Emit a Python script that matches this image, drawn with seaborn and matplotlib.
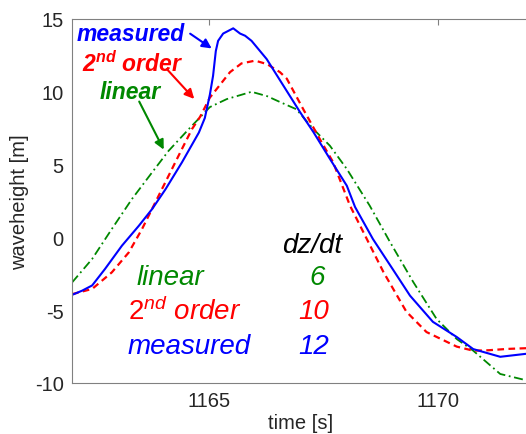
import matplotlib
matplotlib.use('Agg')
import matplotlib.pyplot as plt
import seaborn as sns

# time [s] and waveheight [m]
t_measured = [1162.0, 1162.22, 1162.44, 1162.72, 1163.09, 1163.46, 1163.75, 1164.04, 1164.4,
              1164.77, 1164.90, 1165.01, 1165.08, 1165.14, 1165.19, 1165.30, 1165.52, 1165.67,
              1165.78, 1165.92, 1166.25, 1166.54, 1166.98, 1167.27, 1167.63, 1168.0, 1168.18,
              1168.57, 1169.0, 1169.38, 1169.88, 1170.4, 1170.76, 1171.35, 1171.9, 1172.0]
h_measured = [-3.95, -3.66, -3.3, -2.17, -0.57, 0.8, 1.95, 3.3, 5.15,
              7.2, 8.2, 9.8, 11.1, 12.8, 13.5, 14.0, 14.36, 14.0,
              13.85, 13.5, 12.25, 10.8, 8.6, 7.24, 5.4, 3.55, 2.09,
              -0.11, -2.17, -4.0, -5.8, -6.84, -7.67, -8.2, -8.0, -7.98]

t_second = [1162.0, 1162.44, 1162.87, 1163.24, 1163.53, 1163.82, 1164.11, 1164.4, 1164.62,
            1164.8, 1165.01, 1165.45, 1165.7, 1166.0, 1166.26, 1166.54, 1166.69, 1167.05,
            1167.41, 1167.7, 1168.07, 1168.36, 1168.8, 1169.3, 1169.74, 1170.4, 1170.76,
            1171.1, 1171.5, 1172.0]
h_second = [-3.9, -3.54, -2.4, -1.03, 0.58, 2.41, 4.24, 6.07, 7.44,
            8.3, 9.6, 11.35, 11.95, 12.14, 11.9, 11.35, 10.9, 8.8,
            6.76, 5.17, 2.18, 0.37, -2.38, -5.1, -6.5, -7.5, -7.78,
            -7.75, -7.66, -7.6]

t_linear = [1162.0, 1162.44, 1162.87, 1163.31, 1163.75, 1164.11, 1164.55, 1165.01, 1165.38,
            1165.92, 1166.26, 1166.54, 1166.9, 1167.27, 1167.63, 1168.0, 1168.5, 1168.94,
            1169.45, 1169.96, 1170.4, 1170.76, 1171.35, 1171.9, 1172.0]
h_linear = [-3.1, -1.48, 0.58, 2.64, 4.47, 5.95, 7.44, 8.95, 9.5,
            10.0, 9.7, 9.3, 8.8, 7.44, 6.3, 4.7, 2.18, -0.3,
            -3.06, -5.6, -6.98, -7.78, -9.38, -9.8, -9.83]

dzdt = {'linear': 6, '2nd order': 10, 'measured': 12}
x_ticks = [1165, 1170]
y_ticks = [-10, -5, 0, 5, 10, 15]

c_meas, c_2nd, c_lin = '#0000ff', '#ff0000', '#008800'

sns.set_style('white')
plt.rcParams['font.family'] = ['Liberation Sans', 'DejaVu Sans']
plt.rcParams['axes.unicode_minus'] = False
plt.rcParams['mathtext.fontset'] = 'custom'
plt.rcParams['mathtext.rm'] = 'Liberation Sans'
plt.rcParams['mathtext.it'] = 'Liberation Sans:italic'
plt.rcParams['mathtext.bf'] = 'Liberation Sans:italic:bold'

fig = plt.figure(figsize=(5.26, 4.35), dpi=100)
# axes runs a little past the right edge, like the cropped original
ax = fig.add_axes([72 / 526, 51 / 435, 458 / 526, 364 / 435])

sns.lineplot(x=t_linear, y=h_linear, ax=ax, color=c_lin, lw=1.3, linestyle=(0, (5, 2, 1, 2)))
sns.lineplot(x=t_second, y=h_second, ax=ax, color=c_2nd, lw=1.6, linestyle=(0, (3, 2)))
sns.lineplot(x=t_measured, y=h_measured, ax=ax, color=c_meas, lw=1.5)

ax.set_xlim(1162, 1172)
ax.set_ylim(-10, 15)
ax.set_xticks(x_ticks)
ax.set_yticks(y_ticks)
ax.tick_params(direction='in', length=4, color='#808080', labelsize=14.5, top=True,
               right=False, pad=6)
for s in ['left', 'bottom', 'top']:
    ax.spines[s].set_color('#808080')
ax.spines['right'].set_visible(False)
ax.set_xlabel('time [s]', fontsize=14.5, labelpad=2)
ax.set_ylabel('waveheight [m]', fontsize=14.5, labelpad=4)

# labels with arrows at the top
lab = dict(fontsize=16.5, fontweight='bold', fontstyle='italic', va='center', ha='left')
ax.text(0.011, 0.959, 'measured', color=c_meas, transform=ax.transAxes, **lab)
ax.text(0.022, 0.879, r'$\mathbf{2^{nd}\ order}$', color=c_2nd, transform=ax.transAxes, **lab)
ax.text(0.061, 0.802, 'linear', color=c_lin, transform=ax.transAxes, **lab)
ax.annotate('', xy=(1165.1, 12.87), xytext=(1164.53, 14.1),
            arrowprops=dict(arrowstyle='-|>', color=c_meas, lw=1.5, mutation_scale=14))
ax.annotate('', xy=(1164.71, 9.37), xytext=(1164.03, 11.7),
            arrowprops=dict(arrowstyle='-|>', color=c_2nd, lw=1.5, mutation_scale=14))
ax.annotate('', xy=(1164.03, 5.86), xytext=(1163.44, 9.5),
            arrowprops=dict(arrowstyle='-|>', color=c_lin, lw=1.5, mutation_scale=14))

# dz/dt table
tab = dict(fontsize=20, fontstyle='italic', va='center', transform=ax.transAxes)
ax.text(0.524, 0.379, 'dz/dt', color='black', ha='center', **tab)
ax.text(0.142, 0.291, 'linear', color=c_lin, ha='left', **tab)
ax.text(0.535, 0.291, str(dzdt['linear']), color=c_lin, ha='center', **tab)
ax.text(0.122, 0.198, r'$\mathit{2^{nd}\ order}$', color=c_2nd, ha='left', **tab)
ax.text(0.528, 0.198, str(dzdt['2nd order']), color=c_2nd, ha='center', **tab)
ax.text(0.122, 0.102, 'measured', color=c_meas, ha='left', **tab)
ax.text(0.528, 0.102, str(dzdt['measured']), color=c_meas, ha='center', **tab)

fig.savefig('out.png', dpi=100)
